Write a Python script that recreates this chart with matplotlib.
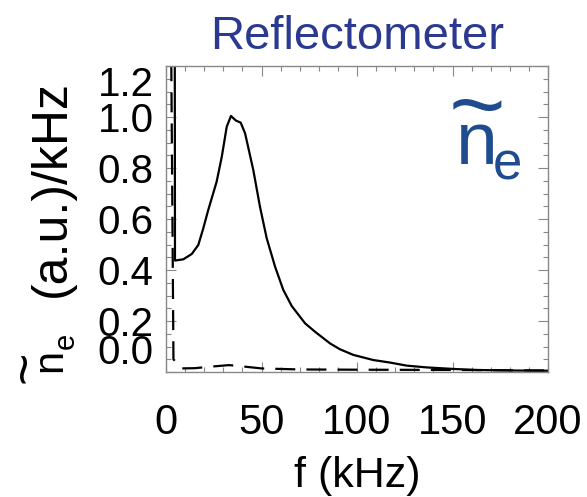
import matplotlib
matplotlib.use('Agg')
import matplotlib.pyplot as plt

plt.rcParams['font.family'] = ['Liberation Sans', 'DejaVu Sans']

# spectrum (solid), f in kHz
f_solid = [4.5, 4.7, 9.1, 13.5, 16.9, 19.5, 22.1, 26.5, 29.2, 31.8, 34.0, 36.6,
           39.1, 41.4, 45.7, 49.2, 52.7, 57.1, 61.4, 65.8, 72.8, 78, 85.9, 91.1,
           98.1, 108.5, 117.3, 126, 136.5, 150.4, 162.7, 180, 196, 200]
s_solid = [2.0, 0.437, 0.442, 0.463, 0.498, 0.563, 0.635, 0.746, 0.844, 0.962,
           1.004, 0.986, 0.978, 0.936, 0.792, 0.648, 0.525, 0.413, 0.322, 0.259,
           0.191, 0.158, 0.112, 0.089, 0.067, 0.047, 0.037, 0.025, 0.018, 0.012,
           0.008, 0.006, 0.005, 0.005]

# dashed curve
f_dash = [2.0, 3.9, 8, 15, 25, 33, 40, 50, 70, 100, 150, 200]
s_dash = [2.0, 0.05, 0.014, 0.015, 0.022, 0.027, 0.022, 0.014, 0.01, 0.009,
          0.008, 0.006]

xticks = [0, 50, 100, 150, 200]
yticks = [0.0, 0.2, 0.4, 0.6, 0.8, 1.0, 1.2]
ylabels = ['0.0', '0.2', '0.4', '0.6', '0.8', '1.0', '1.2']

W, H = 587, 497
fig = plt.figure(figsize=(W / 100, H / 100), dpi=100)
ax = fig.add_axes([0.2828, 0.2515, 0.6508, 0.6157])


def px(x, y):
    # pixel position (from top-left) -> figure fraction
    return x / W, 1 - y / H


ax.plot(f_solid, s_solid, color='black', lw=1.6)
ax.plot(f_dash, s_dash, color='black', lw=1.6, dashes=(9, 5))

ax.set_xlim(0, 200)
ax.set_ylim(0, 1.2)
ax.set_xticks(xticks)
ax.set_yticks(yticks)
ax.set_yticklabels(ylabels)
ax.set_xticks(range(0, 201, 10), minor=True)
ax.set_yticks([i * 0.05 for i in range(25)], minor=True)

for sp in ax.spines.values():
    sp.set_color('#888888')
    sp.set_linewidth(1.0)
ax.tick_params(which='both', direction='in', top=True, right=True,
               color='#888888', width=0.8)
ax.tick_params(which='major', length=7)
ax.tick_params(which='minor', length=3.5)
ax.tick_params(axis='y', labelsize=29, pad=9)
ax.tick_params(axis='x', labelsize=30, pad=22)

labs = ax.get_yticklabels()
labs[0].set_va('bottom')
labs[-1].set_va('top')

ax.set_xlabel('f (kHz)', fontsize=31, labelpad=10)
ax.set_title('Reflectometer', fontsize=34, color='#2b3990', pad=12)

# y label built from pieces: "~n_e   (a.u.)/kHz"
fig.text(*px(52, 189), '(a.u.)/kHz', rotation=90, fontsize=36,
         ha='center', va='center')
fig.text(*px(50, 360), 'n', rotation=90, fontsize=30, ha='center', va='center')
fig.text(*px(66, 341), 'e', rotation=90, fontsize=21, ha='center', va='center')
fig.text(*px(26, 367), '~', rotation=90, fontsize=40, ha='center', va='center')

# n_e tag inside the panel
blue = '#1f4b8f'
fig.text(*px(477, 145), 'n', fontsize=54, color=blue, ha='center', va='center')
fig.text(*px(507, 166), 'e', fontsize=38, color=blue, ha='center', va='center')
fig.text(*px(477, 112), '~', fontsize=70, color=blue, ha='center', va='center')

fig.savefig('out.png', dpi=100)
